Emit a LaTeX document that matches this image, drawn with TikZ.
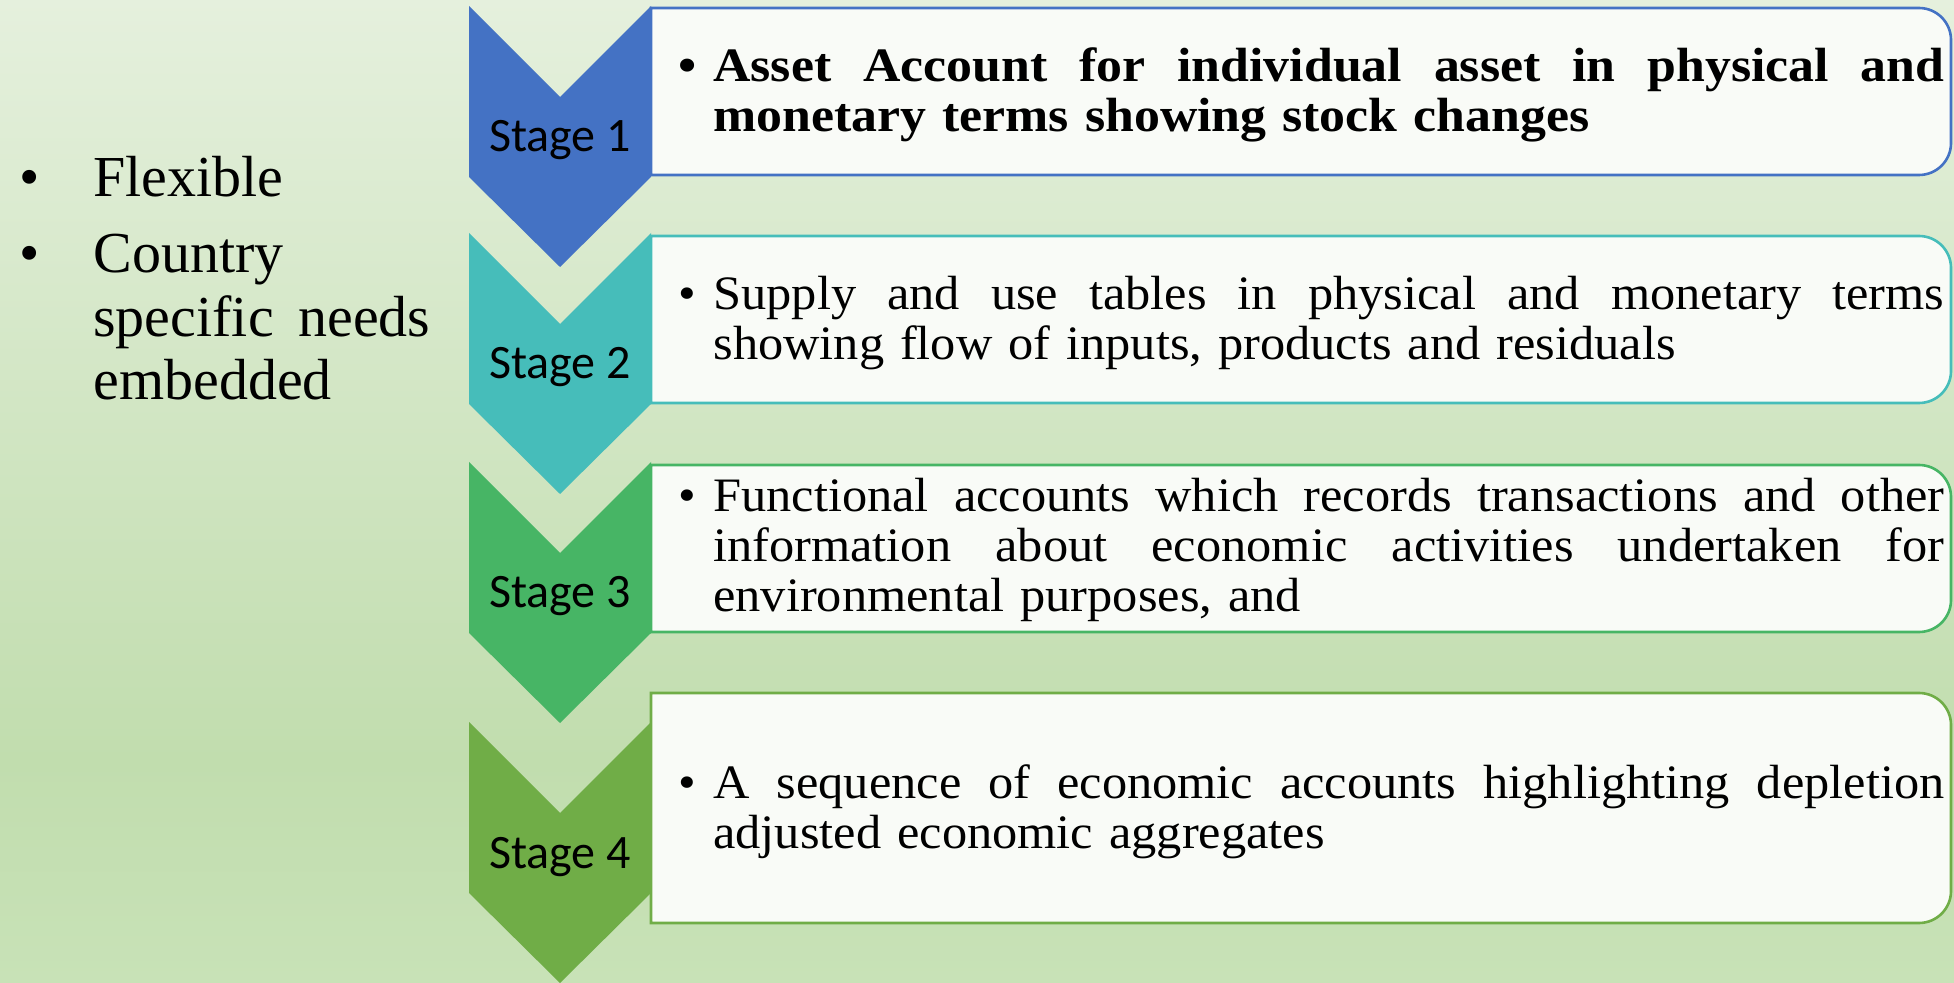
\documentclass[tikz,border=0pt]{standalone}
\usepackage{fontspec}
\setmainfont{Liberation Serif}
\newfontfamily\boxfont[FakeStretch=1.05]{Liberation Serif}
\newfontfamily\leadfont[FakeStretch=1.08]{Liberation Serif}
\newfontfamily\stagefont{Carlito}

\definecolor{bgtop}{RGB}{229,240,221}
\definecolor{bgmid}{RGB}{193,221,174}
\definecolor{bgbottom}{RGB}{200,226,183}
\definecolor{panelfill}{RGB}{249,251,247}
\definecolor{stageone}{RGB}{68,114,196}
\definecolor{stagetwo}{RGB}{70,189,186}
\definecolor{stagethree}{RGB}{71,181,101}
\definecolor{stagefour}{RGB}{112,173,71}

% words spread out over a given width
\newcommand{\spread}[2]{\makebox[#1][s]{\spaceskip=\fontdimen2\font plus 1fil\relax #2}}
% one justified line of a panel
\newcommand{\jline}[1]{\spread{615.5pt}{#1}\\}
% bullet with the lines hanging after it
\newcommand{\entry}[1]{\makebox[17.5pt][l]{\textbullet}\parbox[t]{615.5pt}{#1}}

\begin{document}
\begin{tikzpicture}[x=0.5pt,y=-0.5pt,
  stagelabel/.style={anchor=base,inner sep=0pt,font=\stagefont\fontsize{24}{28}\selectfont},
  itemtext/.style={anchor=base west,inner sep=0pt,text width=633pt,font=\boxfont\fontsize{24}{25}\selectfont},
  panel/.style={line width=1.3pt,fill=panelfill}]
\useasboundingbox (0,0) rectangle (1954,983);
% backdrop
\shade[top color=bgtop,bottom color=bgmid] (0,0) rectangle (1954,760);
\shade[top color=bgmid,bottom color=bgbottom] (0,759) rectangle (1954,983);

% panels
\draw[panel,draw=stageone] (651,8) -- (1919,8) arc[start angle=90,end angle=0,radius=16pt] -- (1951,143) arc[start angle=0,end angle=-90,radius=16pt] -- (651,175) -- cycle;
\draw[panel,draw=stagetwo] (651,236) -- (1919,236) arc[start angle=90,end angle=0,radius=16pt] -- (1951,371) arc[start angle=0,end angle=-90,radius=16pt] -- (651,403) -- cycle;
\draw[panel,draw=stagethree] (651,465) -- (1919,465) arc[start angle=90,end angle=0,radius=16pt] -- (1951,600) arc[start angle=0,end angle=-90,radius=16pt] -- (651,632) -- cycle;
\draw[panel,draw=stagefour] (651,693) -- (1919,693) arc[start angle=90,end angle=0,radius=16pt] -- (1951,891) arc[start angle=0,end angle=-90,radius=16pt] -- (651,923) -- cycle;

% chevrons
\fill[stageone] (469,6) -- (560,97) -- (651,6) -- (651,177) -- (560,267) -- (469,177) -- cycle;
\fill[stagetwo] (469,233) -- (560,324) -- (651,233) -- (651,404) -- (560,494) -- (469,404) -- cycle;
\fill[stagethree] (469,462) -- (560,553) -- (651,462) -- (651,633) -- (560,723) -- (469,633) -- cycle;
\fill[stagefour] (469,722) -- (560,813) -- (651,722) -- (651,893) -- (560,983) -- (469,893) -- cycle;

\node[stagelabel] (stage1) at (560,152) {Stage 1};
\node[stagelabel] (stage2) at (560,379) {Stage 2};
\node[stagelabel] (stage3) at (560,608) {Stage 3};
\node[stagelabel] (stage4) at (560,868) {Stage 4};

\node[itemtext,font=\leadfont\bfseries\fontsize{24}{25}\selectfont] (item1) at (678,82) {\entry{%
  \jline{Asset Account for individual asset in physical and}
  monetary terms showing stock changes}};
\node[itemtext] (item2) at (678,310) {\entry{%
  \jline{Supply and use tables in physical and monetary terms}
  showing flow of inputs, products and residuals}};
\node[itemtext] (item3) at (678,512) {\entry{%
  \jline{Functional accounts which records transactions and other}
  \jline{information about economic activities undertaken for}
  environmental purposes, and}};
\node[itemtext] (item4) at (678,798) {\entry{%
  \jline{A sequence of economic accounts highlighting depletion}
  adjusted economic aggregates}};

% notes on the left
\node[anchor=base west,inner sep=0pt,text width=205.5pt,font=\fontsize{29}{31.75}\selectfont] (notes) at (19,197) {%
  \makebox[37pt][l]{\textbullet}Flexible\par\vspace{6.25pt}
  \makebox[37pt][l]{\textbullet}Country\par
  \hspace*{37pt}\spread{168.5pt}{specific needs}\par
  \hspace*{37pt}embedded};
\end{tikzpicture}
\end{document}
